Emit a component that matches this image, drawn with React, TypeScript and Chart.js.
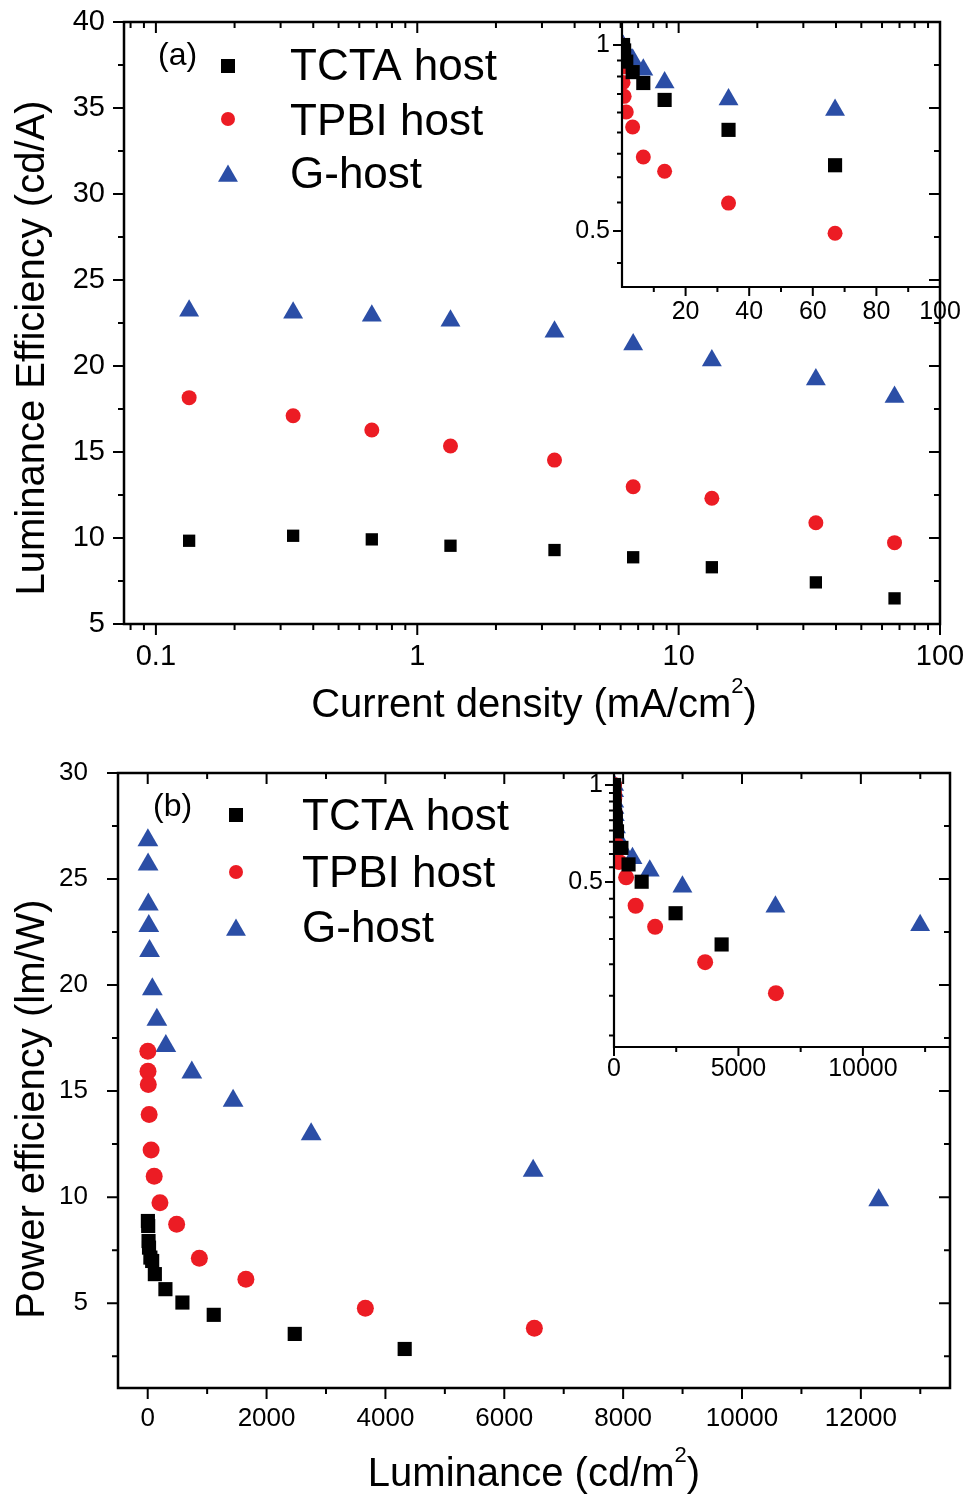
import React, { useEffect, useRef } from 'react';
import { Chart, registerables } from 'chart.js';

Chart.register(...registerables);

const FAMILY = "'Liberation Sans', Arial, sans-serif";
Chart.defaults.font.family = FAMILY;
Chart.defaults.color = '#000';

// ---------------- Panel (a): luminance efficiency vs current density ----------------
const J_A = [0.134, 0.335, 0.67, 1.34, 3.35, 6.7, 13.4, 33.5, 67];
const LE_TCTA = [9.84, 10.13, 9.92, 9.55, 9.3, 8.88, 8.3, 7.42, 6.49];
const LE_TPBI = [18.16, 17.11, 16.28, 15.35, 14.53, 12.98, 12.31, 10.89, 9.73];
const LE_G = [23.21, 23.09, 22.92, 22.63, 21.99, 21.25, 20.32, 19.22, 18.2];

// inset (a): normalized efficiency (log y)
const J_A_INSET_TPBI = [0.013, 0.027, 0.067, 0.134, 0.335, 0.67, 1.34, 3.35, 6.7, 13.4, 33.5, 67];
const NLE_TCTA = [0.97, 1.0, 0.98, 0.94, 0.904, 0.868, 0.815, 0.729, 0.639];
const NLE_TPBI = [1.0, 0.97, 0.95, 0.921, 0.87, 0.826, 0.779, 0.737, 0.659, 0.625, 0.555, 0.496];
const NLE_G = [1.0, 0.995, 0.988, 0.975, 0.947, 0.912, 0.87, 0.816, 0.785];

// ---------------- Panel (b): power efficiency vs luminance ----------------
const L_TCTA = [3, 8, 14, 22, 45, 75, 120, 298, 584, 1111, 2474, 4324];
const PE_TCTA = [8.875, 8.64, 7.93, 7.62, 7.15, 6.99, 6.37, 5.66, 5.03, 4.45, 3.55, 2.84];
const L_TPBI = [2, 5, 10, 24, 57, 109, 206, 487, 869, 1652, 3662, 6506];
const PE_TPBI = [16.88, 15.94, 15.31, 13.9, 12.22, 10.99, 9.74, 8.72, 7.12, 6.13, 4.76, 3.82];
const L_G = [3, 6, 10, 18, 31, 78, 154, 305, 742, 1437, 2750, 6486, 12300];
const PE_G = [26.83, 25.68, 23.8, 22.78, 21.61, 19.8, 18.37, 17.13, 15.88, 14.54, 12.97, 11.25, 9.85];

// inset (b): normalized power efficiency (log y)
const NPE_TCTA = [1.0, 0.974, 0.894, 0.859, 0.806, 0.788, 0.718, 0.638, 0.567, 0.501, 0.4, 0.32];
const NPE_TPBI = [1.0, 0.944, 0.907, 0.823, 0.724, 0.651, 0.577, 0.517, 0.422, 0.363, 0.282, 0.226];
const NPE_G = [1.0, 0.957, 0.887, 0.849, 0.805, 0.738, 0.685, 0.638, 0.592, 0.542, 0.483, 0.419, 0.367];

// ---------------- Series names ----------------
const SERIES = ['TCTA host', 'TPBI host', 'G-host'];

// ---------------- Tick values ----------------
const A_X_TICKS = [0.1, 1, 10, 100];
const A_X_MINOR = [0.08, 0.09, 0.2, 0.3, 0.4, 0.5, 0.6, 0.7, 0.8, 0.9, 2, 3, 4, 5, 6, 7, 8, 9, 20, 30, 40, 50, 60, 70, 80, 90];
const A_Y_TICKS = [5, 10, 15, 20, 25, 30, 35, 40];
const A_Y_MINOR = [7.5, 12.5, 17.5, 22.5, 27.5, 32.5, 37.5];
const AI_X_TICKS = [20, 40, 60, 80, 100];
const AI_X_MINOR = [10, 30, 50, 70, 90];
const AI_Y_TICKS = [0.5, 1];
const AI_Y_MINOR = [0.444, 0.556, 0.611, 0.667, 0.722, 0.778, 0.833, 0.889, 0.944];
const B_X_TICKS = [0, 2000, 4000, 6000, 8000, 10000, 12000];
const B_X_MINOR = [1000, 3000, 5000, 7000, 9000, 11000, 13000];
const B_Y_TICKS = [5, 10, 15, 20, 25, 30];
const B_Y_MINOR = [2.5, 7.5, 12.5, 17.5, 22.5, 27.5];
const BI_X_TICKS = [0, 5000, 10000];
const BI_X_MINOR = [2500, 7500, 12500];
const BI_Y_TICKS = [0.5, 1];
const BI_Y_MINOR = [0.167, 0.222, 0.278, 0.333, 0.389, 0.444, 0.556, 0.611, 0.667, 0.722, 0.778, 0.833, 0.889, 0.944];

const BLACK = '#000000';
const RED = '#ec1c24';
const BLUE = '#2b4ea6';

type Pt = { x: number; y: number };
const pts = (xs: number[], ys: number[]): Pt[] => xs.map((x, i) => ({ x, y: ys[i] }));

function makeDatasets(series: Pt[][], radii: number[]) {
  const styles = ['rect', 'circle', 'triangle'];
  const colors = [BLACK, RED, BLUE];
  return series.map((data, i) => ({
    label: SERIES[i],
    data,
    pointStyle: styles[i],
    pointRadius: radii[i],
    pointBackgroundColor: colors[i],
    pointBorderColor: colors[i],
    pointBorderWidth: 0,
    backgroundColor: colors[i],
    borderColor: colors[i],
    showLine: false,
  }));
}

function drawMarker(ctx: CanvasRenderingContext2D, style: string, x: number, y: number, r: number, color: string) {
  ctx.fillStyle = color;
  ctx.beginPath();
  if (style === 'rect') {
    const s = r * Math.SQRT1_2;
    ctx.rect(x - s, y - s, 2 * s, 2 * s);
  } else if (style === 'circle') {
    ctx.arc(x, y, r, 0, Math.PI * 2);
  } else {
    ctx.moveTo(x, y - r);
    ctx.lineTo(x + r * Math.sin(Math.PI / 3), y + r / 2);
    ctx.lineTo(x - r * Math.sin(Math.PI / 3), y + r / 2);
    ctx.closePath();
  }
  ctx.fill();
}

type TickSpec = { axis: 'x' | 'y'; side: string; dir: number; values: number[]; len: number };
type RichPart = { t: string; sup?: boolean };
type Decor = {
  frame: 'box' | 'axes';
  lineWidth: number;
  tickWidth: number;
  ticks: TickSpec[];
  legend?: { mx: number; my: number[]; tx: number; ty: number[]; radii: number[]; size: number };
  texts?: { t: string; x: number; y: number; size: number }[];
  titles?: { parts: RichPart[]; x: number; y: number; size: number; rot: number }[];
};

function drawRich(ctx: CanvasRenderingContext2D, parts: RichPart[], cx: number, cy: number, size: number, rot: number) {
  ctx.save();
  ctx.translate(cx, cy);
  if (rot) ctx.rotate(rot);
  ctx.textAlign = 'left';
  ctx.textBaseline = 'alphabetic';
  const supSize = Math.round(size * 0.55);
  const widths = parts.map((p) => {
    ctx.font = `${p.sup ? supSize : size}px ${FAMILY}`;
    return ctx.measureText(p.t).width;
  });
  const total = widths.reduce((a, b) => a + b, 0);
  let x = -total / 2;
  parts.forEach((p, i) => {
    ctx.font = `${p.sup ? supSize : size}px ${FAMILY}`;
    ctx.fillText(p.t, x, p.sup ? -size * 0.6 : 0);
    x += widths[i];
  });
  ctx.restore();
}

function makeDecor(spec: Decor) {
  return {
    id: 'decor',
    afterDraw(chart: any) {
      const { ctx, chartArea: a } = chart;
      ctx.save();
      ctx.strokeStyle = '#000';
      ctx.fillStyle = '#000';
      ctx.lineCap = 'butt';
      ctx.lineWidth = spec.lineWidth;
      ctx.beginPath();
      if (spec.frame === 'box') {
        ctx.rect(a.left, a.top, a.right - a.left, a.bottom - a.top);
      } else {
        ctx.moveTo(a.left, a.top);
        ctx.lineTo(a.left, a.bottom);
        ctx.lineTo(a.right, a.bottom);
      }
      ctx.stroke();

      ctx.lineWidth = spec.tickWidth;
      for (const t of spec.ticks) {
        const scale = chart.scales[t.axis];
        ctx.beginPath();
        for (const v of t.values) {
          const p = scale.getPixelForValue(v);
          if (t.axis === 'x') {
            if (p < a.left - 0.5 || p > a.right + 0.5) continue;
            const y0 = t.side === 'bottom' ? a.bottom : a.top;
            const sgn = (t.side === 'bottom' ? 1 : -1) * t.dir;
            ctx.moveTo(p, y0);
            ctx.lineTo(p, y0 + sgn * t.len);
          } else {
            if (p < a.top - 0.5 || p > a.bottom + 0.5) continue;
            const x0 = t.side === 'left' ? a.left : a.right;
            const sgn = (t.side === 'left' ? -1 : 1) * t.dir;
            ctx.moveTo(x0, p);
            ctx.lineTo(x0 + sgn * t.len, p);
          }
        }
        ctx.stroke();
      }

      if (spec.legend) {
        const lg = spec.legend;
        chart.data.datasets.forEach((ds: any, i: number) => {
          drawMarker(ctx, ds.pointStyle, lg.mx, lg.my[i], lg.radii[i], ds.pointBackgroundColor);
          ctx.fillStyle = '#000';
          ctx.font = `${lg.size}px ${FAMILY}`;
          ctx.textAlign = 'left';
          ctx.textBaseline = 'alphabetic';
          ctx.fillText(ds.label, lg.tx, lg.ty[i]);
        });
      }
      if (spec.texts) {
        for (const t of spec.texts) {
          ctx.fillStyle = '#000';
          ctx.font = `${t.size}px ${FAMILY}`;
          ctx.textAlign = 'left';
          ctx.textBaseline = 'alphabetic';
          ctx.fillText(t.t, t.x, t.y);
        }
      }
      if (spec.titles) {
        ctx.fillStyle = '#000';
        for (const t of spec.titles) drawRich(ctx, t.parts, t.x, t.y, t.size, t.rot);
      }
      ctx.restore();
    },
  };
}

function axis(opts: {
  type: string;
  position: string;
  min: number;
  max: number;
  ticks: number[];
  size: number;
  pad: number;
  font: number;
}) {
  const horizontal = opts.position === 'bottom';
  return {
    type: opts.type,
    position: opts.position,
    min: opts.min,
    max: opts.max,
    // the gap between axis line and labels is reserved through an invisible tick length
    grid: { display: false, drawTicks: true, tickLength: opts.pad },
    border: { display: false },
    afterBuildTicks: (s: any) => {
      s.ticks = opts.ticks.map((v) => ({ value: v }));
    },
    afterFit: (s: any) => {
      if (horizontal) s.height = opts.size;
      else s.width = opts.size;
    },
    ticks: {
      autoSkip: false,
      maxRotation: 0,
      minRotation: 0,
      padding: 0,
      color: '#000',
      font: { size: opts.font, family: FAMILY },
      callback: (v: any) => String(v),
    },
  };
}

function baseOptions(padding: any, scales: any) {
  return {
    animation: false,
    responsive: false,
    maintainAspectRatio: false,
    devicePixelRatio: 1,
    events: [],
    layout: { padding, autoPadding: false },
    plugins: { legend: { display: false }, tooltip: { enabled: false } },
    scales,
  };
}

// ---------- chart configs ----------
function configA() {
  return {
    type: 'scatter',
    data: { datasets: makeDatasets([pts(J_A, LE_TCTA), pts(J_A, LE_TPBI), pts(J_A, LE_G)], [8.7, 7.5, 11.5]) },
    options: baseOptions(
      { left: 0, top: 22, right: 29, bottom: 0 },
      {
        x: axis({ type: 'logarithmic', position: 'bottom', min: 0.0755, max: 100, ticks: A_X_TICKS, size: 121, pad: 16, font: 29 }),
        y: axis({ type: 'linear', position: 'left', min: 5, max: 40, ticks: A_Y_TICKS, size: 124, pad: 19, font: 29 }),
      }
    ),
    plugins: [
      makeDecor({
        frame: 'box',
        lineWidth: 2.5,
        tickWidth: 2,
        ticks: [
          { axis: 'x', side: 'bottom', dir: 1, values: A_X_TICKS, len: 11 },
          { axis: 'x', side: 'bottom', dir: 1, values: A_X_MINOR, len: 6 },
          { axis: 'x', side: 'top', dir: -1, values: A_X_TICKS, len: 11 },
          { axis: 'x', side: 'top', dir: -1, values: A_X_MINOR, len: 6 },
          { axis: 'y', side: 'left', dir: 1, values: A_Y_TICKS, len: 11 },
          { axis: 'y', side: 'left', dir: 1, values: A_Y_MINOR, len: 6 },
          { axis: 'y', side: 'right', dir: -1, values: A_Y_TICKS, len: 11 },
          { axis: 'y', side: 'right', dir: -1, values: A_Y_MINOR, len: 6 },
        ],
        legend: { mx: 228, my: [66, 119, 176], tx: 290, ty: [80, 135, 188], radii: [9.9, 7, 11.5], size: 44 },
        texts: [{ t: '(a)', x: 158, y: 65, size: 32 }],
        titles: [
          { parts: [{ t: 'Luminance Efficiency (cd/A)' }], x: 44, y: 348, size: 40, rot: -Math.PI / 2 },
          { parts: [{ t: 'Current density (mA/cm' }, { t: '2', sup: true }, { t: ')' }], x: 534, y: 717, size: 40, rot: 0 },
        ],
      }),
    ],
  };
}

function configAInset() {
  return {
    type: 'scatter',
    data: {
      datasets: makeDatasets(
        [pts(J_A, NLE_TCTA), pts(J_A_INSET_TPBI, NLE_TPBI), pts(J_A, NLE_G)],
        [10, 7.5, 11.5]
      ),
    },
    options: baseOptions(
      { left: 0, top: 22, right: 29, bottom: 0 },
      {
        x: axis({ type: 'linear', position: 'bottom', min: 0, max: 100, ticks: AI_X_TICKS, size: 53, pad: 10, font: 25 }),
        y: axis({ type: 'logarithmic', position: 'left', min: 0.406, max: 1.0895, ticks: AI_Y_TICKS, size: 62, pad: 12, font: 25 }),
      }
    ),
    plugins: [
      makeDecor({
        frame: 'axes',
        lineWidth: 2.2,
        tickWidth: 2,
        ticks: [
          { axis: 'x', side: 'bottom', dir: 1, values: AI_X_TICKS, len: 9 },
          { axis: 'x', side: 'bottom', dir: 1, values: AI_X_MINOR, len: 5 },
          { axis: 'y', side: 'left', dir: 1, values: AI_Y_TICKS, len: 9 },
          { axis: 'y', side: 'left', dir: 1, values: AI_Y_MINOR, len: 5 },
        ],
      }),
    ],
  };
}

function configB() {
  return {
    type: 'scatter',
    data: {
      datasets: makeDatasets([pts(L_TCTA, PE_TCTA), pts(L_TPBI, PE_TPBI), pts(L_G, PE_G)], [10, 8.5, 12]),
    },
    options: baseOptions(
      { left: 0, top: 28, right: 19, bottom: 0 },
      {
        x: axis({ type: 'linear', position: 'bottom', min: -500, max: 13500, ticks: B_X_TICKS, size: 107, pad: 15, font: 26 }),
        y: axis({ type: 'linear', position: 'left', min: 1, max: 30, ticks: B_Y_TICKS, size: 118, pad: 30, font: 26 }),
      }
    ),
    plugins: [
      makeDecor({
        frame: 'box',
        lineWidth: 2.5,
        tickWidth: 2,
        ticks: [
          { axis: 'x', side: 'bottom', dir: 1, values: B_X_TICKS, len: 11 },
          { axis: 'x', side: 'bottom', dir: 1, values: B_X_MINOR, len: 6 },
          { axis: 'x', side: 'top', dir: -1, values: B_X_TICKS, len: 11 },
          { axis: 'x', side: 'top', dir: -1, values: B_X_MINOR, len: 6 },
          { axis: 'y', side: 'left', dir: 1, values: B_Y_TICKS, len: 11 },
          { axis: 'y', side: 'left', dir: 1, values: B_Y_MINOR, len: 6 },
          { axis: 'y', side: 'right', dir: -1, values: B_Y_TICKS, len: 11 },
          { axis: 'y', side: 'right', dir: -1, values: B_Y_MINOR, len: 6 },
        ],
        legend: { mx: 236, my: [70, 127, 185], tx: 302, ty: [85, 142, 197], radii: [9.9, 7, 11.5], size: 44 },
        texts: [{ t: '(b)', x: 153, y: 71, size: 32 }],
        titles: [
          { parts: [{ t: 'Power efficiency (lm/W)' }], x: 44, y: 364, size: 40, rot: -Math.PI / 2 },
          { parts: [{ t: 'Luminance (cd/m' }, { t: '2', sup: true }, { t: ')' }], x: 534, y: 741, size: 40, rot: 0 },
        ],
      }),
    ],
  };
}

function configBInset() {
  return {
    type: 'scatter',
    data: {
      datasets: makeDatasets([pts(L_TCTA, NPE_TCTA), pts(L_TPBI, NPE_TPBI), pts(L_G, NPE_G)], [10, 8, 11.5]),
    },
    options: baseOptions(
      { left: 0, top: 28, right: 19, bottom: 0 },
      {
        x: axis({ type: 'linear', position: 'bottom', min: 0, max: 13500, ticks: BI_X_TICKS, size: 58, pad: 7, font: 25 }),
        y: axis({ type: 'logarithmic', position: 'left', min: 0.1538, max: 1.0895, ticks: BI_Y_TICKS, size: 54, pad: 11, font: 25 }),
      }
    ),
    plugins: [
      makeDecor({
        frame: 'axes',
        lineWidth: 2.2,
        tickWidth: 2,
        ticks: [
          { axis: 'x', side: 'bottom', dir: 1, values: BI_X_TICKS, len: 9 },
          { axis: 'x', side: 'bottom', dir: 1, values: BI_X_MINOR, len: 5 },
          { axis: 'y', side: 'left', dir: 1, values: BI_Y_TICKS, len: 9 },
          { axis: 'y', side: 'left', dir: 1, values: BI_Y_MINOR, len: 5 },
        ],
      }),
    ],
  };
}

function ChartCanvas(props: { make: () => any; left: number; top: number; width: number; height: number }) {
  const ref = useRef<HTMLCanvasElement>(null);
  useEffect(() => {
    const chart = new Chart(ref.current as HTMLCanvasElement, props.make());
    return () => chart.destroy();
  }, []);
  return (
    <canvas
      ref={ref}
      width={props.width}
      height={props.height}
      style={{ position: 'absolute', left: props.left, top: props.top, width: props.width, height: props.height, display: 'block' }}
    />
  );
}

export default function App() {
  return (
    <div style={{ position: 'absolute', left: 0, top: 0, width: 969, height: 1495, background: '#ffffff', overflow: 'hidden' }}>
      <ChartCanvas make={configA} left={0} top={0} width={969} height={745} />
      <ChartCanvas make={configAInset} left={560} top={0} width={409} height={340} />
      <ChartCanvas make={configB} left={0} top={745} width={969} height={750} />
      <ChartCanvas make={configBInset} left={560} top={745} width={409} height={360} />
    </div>
  );
}
